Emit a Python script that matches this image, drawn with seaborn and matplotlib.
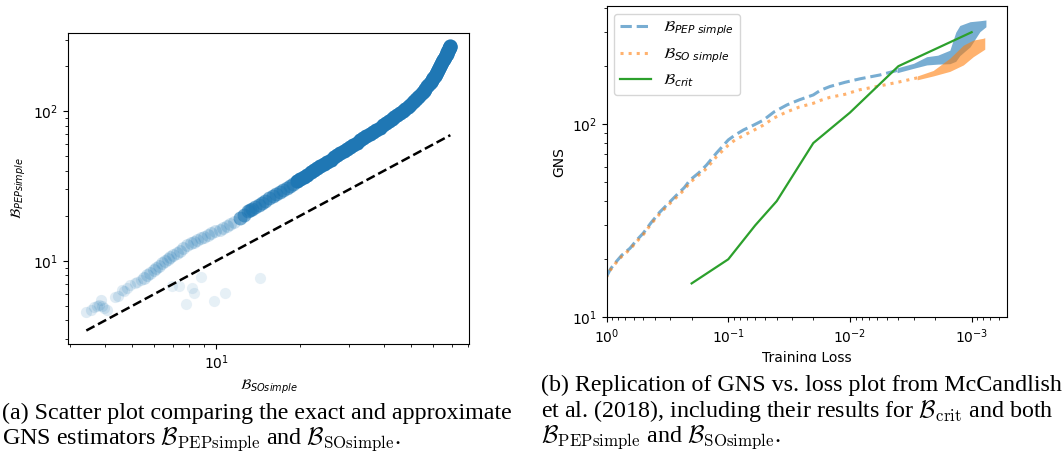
import matplotlib
matplotlib.use("Agg")
import matplotlib.pyplot as plt
import seaborn as sns
from matplotlib.patches import Rectangle

# ---------------- (a) scatter data: B_SOsimple (x) vs B_PEPsimple (y) ----------------
so_faint = [3.42, 3.55, 3.63, 3.75, 3.80, 3.86, 3.90, 3.95, 4.06, 4.35, 4.45, 4.59, 4.65, 4.80,
            4.92, 5.10, 5.20, 5.35]
pep_faint = [4.56, 4.70, 4.89, 4.95, 5.10, 5.46, 5.00, 4.81, 4.69, 5.69, 5.85, 6.37, 6.30, 6.60,
             6.88, 7.10, 7.20, 7.44]
so_light = [5.50, 5.65, 5.80, 5.96, 6.10, 6.25, 6.40, 6.55, 6.70, 6.84, 7.00, 7.20, 7.40, 7.60,
            7.85, 8.10, 8.30, 8.55, 8.80, 9.01, 9.30, 9.60, 9.90, 10.3, 10.6, 10.9, 11.2, 11.6]
pep_light = [7.70, 8.00, 8.30, 8.67, 8.90, 9.20, 9.60, 9.90, 10.3, 10.6, 10.9, 11.3, 11.7, 12.2,
             12.7, 13.1, 13.4, 13.8, 14.2, 14.5, 14.9, 15.3, 15.7, 16.0, 16.5, 17.0, 17.6, 18.2]
so_out = [6.93, 7.33, 8.18, 8.34, 8.83, 7.79, 9.78, 10.77, 14.3]
pep_out = [6.81, 6.78, 6.55, 6.11, 7.74, 5.12, 5.41, 6.05, 7.70]
so_mid = [12.2, 12.6, 13.0, 13.2, 13.4, 13.8, 14.2, 14.6, 15.0, 15.5, 16.0, 16.4, 16.9, 17.4,
          17.9, 18.4, 18.9]
pep_mid = [19.4, 20.3, 21.4, 21.8, 22.1, 22.9, 23.6, 24.4, 25.1, 26.1, 27.0, 27.8, 28.7, 29.7,
           30.7, 31.7, 32.8]
so_dense = [19.5, 20.0, 20.6, 21.2, 21.8, 22.4, 23.0, 23.6, 24.3, 25.0, 25.7, 26.4, 27.1, 27.8,
            28.6, 29.4, 30.2, 31.0, 31.9, 32.7, 33.6, 34.5, 35.5, 36.5, 37.5, 38.5, 39.6, 40.5,
            41.5, 42.5, 43.5, 44.5, 45.5, 46.5, 47.5, 48.5, 49.5, 50.5, 51.5, 52.5, 53.5, 54.4,
            55.3, 56.2, 57.0, 57.8, 58.6, 59.3, 60.0, 60.7, 61.3, 61.9, 62.5, 63.1, 63.6, 64.1,
            64.6, 65.1, 65.6, 66.1, 66.5, 66.9, 67.3, 67.7, 68.0, 68.3, 68.6, 69.0]
pep_dense = [34.0, 35.1, 36.3, 37.6, 39.0, 40.3, 41.6, 43.0, 44.4, 45.9, 47.4, 49.0, 50.6, 52.3,
             54.0, 55.9, 57.8, 59.7, 61.6, 63.6, 65.6, 67.8, 70.0, 72.5, 75.0, 77.6, 80.4, 82.8,
             85.4, 88.2, 91.0, 94.0, 97.0, 100.2, 103.5, 107.0, 110.5, 114.2, 118.0, 122.2, 126.5,
             131.0, 135.5, 140.5, 146.0, 151.0, 156.0, 161.0, 166.0, 171.5, 177.0, 182.5, 188.0,
             194.0, 200.0, 206.0, 212.0, 218.0, 224.0, 230.0, 236.0, 242.0, 248.0, 253.5, 259.0,
             263.5, 268.0, 272.0]
diag = [3.42, 69.0]

# ---------------- (b) GNS vs training loss ----------------
loss_pep = [1.0, 0.93, 0.853, 0.75, 0.642, 0.57, 0.50, 0.43, 0.364, 0.31, 0.265, 0.23, 0.206,
            0.175, 0.151, 0.125, 0.10, 0.088, 0.075, 0.062, 0.0516, 0.042, 0.033, 0.026, 0.020,
            0.0175, 0.0146, 0.011, 0.0083, 0.0057, 0.0041]
gns_pep = [16.3, 17.8, 19.1, 21.0, 22.8, 25.0, 27.3, 31.0, 35.2, 39.0, 43.1, 47.0, 51.5, 56.0,
           61.5, 71.0, 83.0, 88.0, 93.5, 99.0, 105.0, 116.0, 126.0, 134.0, 142.0, 150.0, 157.0,
           165.0, 172.0, 180.0, 190.0]
loss_so = [1.0, 0.93, 0.853, 0.75, 0.642, 0.57, 0.50, 0.43, 0.364, 0.31, 0.265, 0.23, 0.206,
           0.175, 0.151, 0.125, 0.10, 0.088, 0.075, 0.062, 0.0516, 0.042, 0.033, 0.026, 0.020,
           0.0175, 0.0146, 0.011, 0.0083, 0.0057, 0.0039, 0.0028]
gns_so = [16.2, 17.6, 18.9, 20.7, 22.5, 24.6, 26.8, 30.5, 34.5, 38.3, 42.0, 45.8, 50.0, 54.5,
          59.0, 68.0, 78.0, 83.0, 87.5, 93.0, 99.0, 108.0, 116.0, 123.0, 128.5, 133.0, 138.0,
          143.0, 151.0, 158.0, 166.0, 174.0]
band_loss_pep = [0.0041, 0.0030, 0.00234, 0.0019, 0.00151, 0.00135, 0.00125, 0.00103, 0.000855, 0.000763]
band_lo_pep = [185, 195, 203, 205, 206, 212, 227, 252, 302, 320]
band_hi_pep = [196, 207, 224, 228, 242, 300, 325, 340, 344, 347]
band_loss_so = [0.0028, 0.00207, 0.00151, 0.00117, 0.00097, 0.000803, 0.00078]
band_lo_so = [170, 178, 188, 203, 224, 242, 245]
band_hi_so = [178, 190, 220, 257, 273, 279, 281]
crit_loss = [0.2, 0.1, 0.06, 0.04, 0.02, 0.01, 0.004, 0.001]
crit_gns = [15, 20, 30, 40, 80, 115, 200, 300]

labels_b = [r"$\mathcal{B}_{PEP\ simple}$", r"$\mathcal{B}_{SO\ simple}$", r"$\mathcal{B}_{crit}$"]

BLUE, ORANGE, GREEN = "#1f77b4", "#ff7f0e", "#2ca02c"

W, H = 1063, 454
fig = plt.figure(figsize=(W / 100, H / 100), dpi=100)

def axrect(l, t, r, b):
    return [l / W, 1 - b / H, (r - l) / W, (b - t) / H]

# ---------- panel (a) ----------
ax1 = fig.add_axes(axrect(68, 32.7, 469, 344))
sns.scatterplot(x=so_faint, y=pep_faint, ax=ax1, color=BLUE, alpha=0.14, s=65, linewidth=0)
sns.scatterplot(x=so_out, y=pep_out, ax=ax1, color=BLUE, alpha=0.11, s=65, linewidth=0)
sns.scatterplot(x=so_light, y=pep_light, ax=ax1, color=BLUE, alpha=0.22, s=85, linewidth=0)
sns.scatterplot(x=so_mid, y=pep_mid, ax=ax1, color=BLUE, alpha=0.6, s=100, linewidth=0)
sns.scatterplot(x=so_dense, y=pep_dense, ax=ax1, color=BLUE, alpha=1.0, s=105, linewidth=0)
sns.lineplot(x=diag, y=diag, ax=ax1, color="black", linestyle="--", linewidth=1.8)
ax1.set_xscale("log")
ax1.set_yscale("log")
ax1.set_xlim(2.94, 80.5)
ax1.set_ylim(2.78, 333.6)
ax1.set_xlabel(r"$\mathcal{B}_{SOsimple}$", fontsize=10)
ax1.set_ylabel(r"$\mathcal{B}_{PEPsimple}$", fontsize=10)
ax1.tick_params(labelsize=10)

# ---------- panel (b) ----------
ax2 = fig.add_axes(axrect(606.6, 6, 1006.7, 317.4))
ax2.fill_between(band_loss_pep, band_lo_pep, band_hi_pep, color=BLUE, alpha=0.6, linewidth=0)
ax2.fill_between(band_loss_so, band_lo_so, band_hi_so, color=ORANGE, alpha=0.6, linewidth=0)
sns.lineplot(x=loss_pep, y=gns_pep, ax=ax2, color=BLUE, alpha=0.6, linestyle="--",
             linewidth=2.2, label=labels_b[0], errorbar=None)
sns.lineplot(x=loss_so, y=gns_so, ax=ax2, color=ORANGE, alpha=0.6, linestyle=":",
             linewidth=2.2, label=labels_b[1], errorbar=None)
sns.lineplot(x=crit_loss, y=crit_gns, ax=ax2, color=GREEN, linewidth=1.6,
             label=labels_b[2], errorbar=None)
ax2.set_xscale("log")
ax2.set_yscale("log")
ax2.set_xlim(1.0, 5.15e-4)
ax2.set_ylim(10, 410)
ax2.set_xlabel("Training Loss", fontsize=10)
ax2.set_ylabel("GNS", fontsize=10)
ax2.tick_params(labelsize=10)
ax2.legend(loc="upper left", fontsize=11)

# crop of the figure below the right panel
fig.patches.append(Rectangle((0.5, 0), 0.5, (H - 362) / H, transform=fig.transFigure,
                             facecolor="white", edgecolor="none", zorder=5))

# ---------- captions ----------
cap = dict(family="Liberation Serif", fontsize=17.3, va="baseline", ha="left",
           math_fontfamily="cm", zorder=10)
fig.text(2 / W, 1 - 418.5 / H, "(a) Scatter plot comparing the exact and approximate", **cap)
fig.text(2 / W, 1 - 443.5 / H,
         r"GNS estimators $\mathcal{B}_{\mathrm{PEPsimple}}$ and $\mathcal{B}_{\mathrm{SOsimple}}$.", **cap)
fig.text(541 / W, 1 - 391 / H, "(b) Replication of GNS vs. loss plot from McCandlish", **cap)
fig.text(541 / W, 1 - 416.5 / H,
         r"et al. (2018), including their results for $\mathcal{B}_{\mathrm{crit}}$ and both", **cap)
fig.text(541 / W, 1 - 441.5 / H,
         r"$\mathcal{B}_{\mathrm{PEPsimple}}$ and $\mathcal{B}_{\mathrm{SOsimple}}$.", **cap)

fig.savefig("out.png", dpi=100)
